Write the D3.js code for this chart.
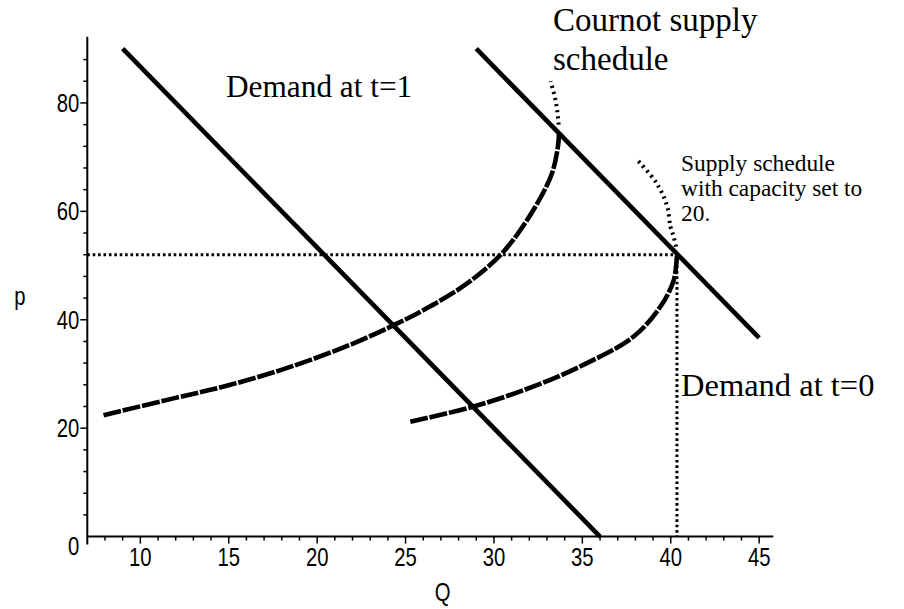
<!DOCTYPE html>
<html>
<head>
<meta charset="utf-8">
<script src="https://cdn.jsdelivr.net/npm/d3@7"></script>
<style>
  html, body { margin: 0; padding: 0; background: #fff; }
  svg { display: block; }
  .tick-label { font-family: "Liberation Sans", Arial, sans-serif; font-size: 26px; fill: #000; }
  .note { font-family: "Liberation Serif", "Times New Roman", serif; fill: #000; }
</style>
</head>
<body>
<svg id="chart" width="904" height="609"></svg>
<script>
// ---- data ----
const qTicks = [10, 15, 20, 25, 30, 35, 40, 45];
const pTicks = [0, 20, 40, 60, 80];
const qDomain = [7, 45.8];
const pDomain = [0, 92.2];

// Demand lines (Q, p)
const demandT1 = [[9, 90], [36, 0]];
const demandT0 = [[29, 90], [45, 36.67]];

// Cournot supply schedule (solid part)
const cournotSupply = [
  [7.92, 22.4], [11.88, 25.5], [15.09, 28.0], [18.48, 31.3], [21.88, 35.4],
  [24.33, 39.0], [26.02, 41.8], [28.48, 46.7], [30.55, 52.6], [32.24, 60.3],
  [33.28, 67.0], [33.62, 72.0], [33.68, 74.4]
];
// Cournot supply schedule (dotted continuation)
const cournotDotted = [[33.66, 76.0], [33.58, 78.5], [33.45, 81.0], [33.2, 84.0]];

// Supply schedule with capacity set to 20 (solid part)
const capSupply = [
  [25.27, 21.2], [28.85, 24.0], [32.24, 27.7], [35.26, 32.0], [37.9, 36.9],
  [39.41, 42.4], [40.17, 47.3], [40.35, 52.0]
];
// Capacity supply (dotted continuation)
const capDotted = [[40.3, 53.5], [40.15, 55.5], [39.98, 57.2], [39.8, 60.9], [39.2, 65.2], [38.1, 69.5]];

// Equilibrium guide lines
const eqQ = 40.35;
const eqP = 52;

// ---- drawing ----
const svg = d3.select("#chart");
const x = d3.scaleLinear().domain(qDomain).range([87.3, 773.3]);
const y = d3.scaleLinear().domain(pDomain).range([536.6, 36.8]);

const line = d3.line().x(d => x(d[0])).y(d => y(d[1]));
const curve = d3.line().x(d => x(d[0])).y(d => y(d[1])).curve(d3.curveCatmullRom.alpha(0.5));

// dotted guide lines
svg.append("path")
  .attr("d", line([[qDomain[0], eqP], [eqQ, eqP]]))
  .attr("fill", "none").attr("stroke", "#000")
  .attr("stroke-width", 3).attr("stroke-dasharray", "2.6,2.8");
svg.append("path")
  .attr("d", line([[eqQ, eqP], [eqQ, 0]]))
  .attr("fill", "none").attr("stroke", "#000")
  .attr("stroke-width", 3).attr("stroke-dasharray", "2.6,2.8");

// axes
const xAxisG = svg.append("g").attr("transform", `translate(0,${y(0)})`);
xAxisG.append("line").attr("x1", x(qDomain[0])).attr("x2", x(qDomain[1]))
  .attr("stroke", "#000").attr("stroke-width", 2);
const qMinor = d3.range(8, 46, 1);
xAxisG.selectAll("line.minor").data(qMinor).enter().append("line")
  .attr("x1", d => x(d)).attr("x2", d => x(d))
  .attr("y1", 0).attr("y2", d => (d % 5 === 0 ? 7 : 4))
  .attr("stroke", "#000").attr("stroke-width", 1.5);
xAxisG.selectAll("text").data(qTicks).enter().append("text")
  .attr("class", "tick-label")
  .attr("transform", d => `translate(${x(d)},29) scale(0.78,1)`)
  .attr("text-anchor", "middle")
  .text(d => d);

const yAxisG = svg.append("g").attr("transform", `translate(${x(qDomain[0])},0)`);
yAxisG.append("line").attr("y1", y(pDomain[1])).attr("y2", y(0) + 8)
  .attr("stroke", "#000").attr("stroke-width", 2);
const pMinor = d3.range(4, 92, 4);
yAxisG.selectAll("line.minor").data(pMinor).enter().append("line")
  .attr("y1", d => y(d)).attr("y2", d => y(d))
  .attr("x1", d => (d % 20 === 0 ? -7 : -4)).attr("x2", 0)
  .attr("stroke", "#000").attr("stroke-width", 1.5);
yAxisG.selectAll("text").data(pTicks).enter().append("text")
  .attr("class", "tick-label")
  .attr("transform", d => `translate(-8,${y(d) + (d === 0 ? 18 : 9)}) scale(0.78,1)`)
  .attr("text-anchor", "end")
  .text(d => d);

// axis titles
svg.append("text").attr("class", "tick-label")
  .attr("transform", `translate(${x(qDomain[0]) - 73},${y(44) + 7}) scale(0.78,1)`)
  .text("p");
svg.append("text").attr("class", "tick-label")
  .attr("transform", `translate(${x(27.1)},601) scale(0.78,1)`)
  .attr("text-anchor", "middle").text("Q");

// demand lines
[demandT1, demandT0].forEach(d => {
  svg.append("path").attr("d", line(d))
    .attr("fill", "none").attr("stroke", "#000").attr("stroke-width", 4.6);
});

// supply schedules (solid, thick dashed look)
[cournotSupply, capSupply].forEach(d => {
  svg.append("path").attr("d", curve(d))
    .attr("fill", "none").attr("stroke", "#000").attr("stroke-width", 4.6)
    .attr("stroke-dasharray", "18,1.8");
});
// dotted continuations
[cournotDotted, capDotted].forEach(d => {
  svg.append("path").attr("d", curve(d))
    .attr("fill", "none").attr("stroke", "#000").attr("stroke-width", 4)
    .attr("stroke-dasharray", "2.2,4");
});

// annotations
const notes = [
  { text: "Cournot supply", x: 553, y: 31, size: 33 },
  { text: "schedule", x: 553, y: 70, size: 33 },
  { text: "Demand at t=1", x: 226, y: 97, size: 31.3 },
  { text: "Supply schedule", x: 681, y: 171, size: 23.4 },
  { text: "with capacity set to", x: 681, y: 196, size: 23.4 },
  { text: "20.", x: 681, y: 221, size: 23.4 },
  { text: "Demand at t=0", x: 681, y: 396, size: 32.5 }
];
svg.selectAll("text.note").data(notes).enter().append("text")
  .attr("class", "note")
  .attr("x", d => d.x).attr("y", d => d.y)
  .style("font-size", d => d.size + "px")
  .text(d => d.text);
</script>
</body>
</html>
